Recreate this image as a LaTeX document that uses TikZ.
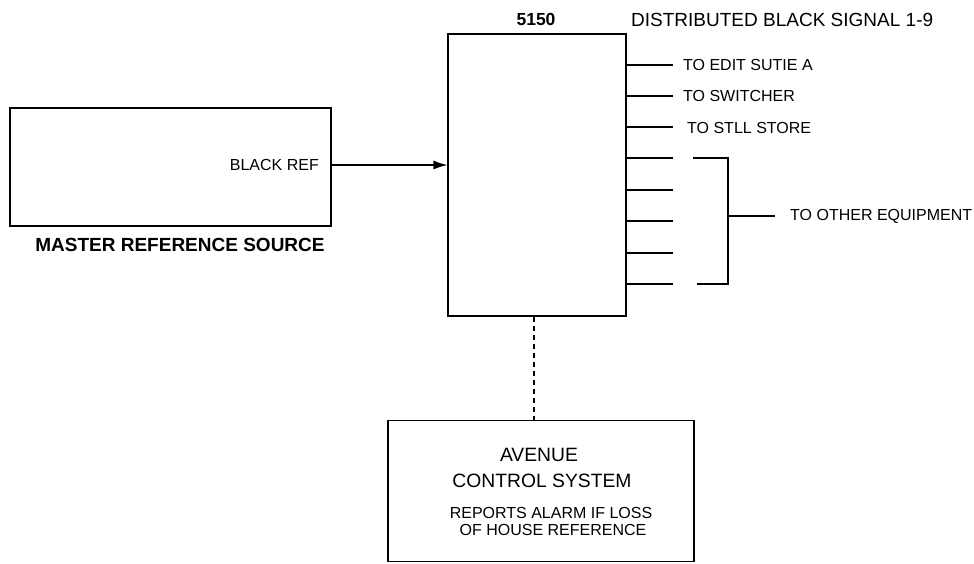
\documentclass[tikz,border=0pt]{standalone}
\usepackage{fontspec}
\setmainfont{Liberation Sans}
\usetikzlibrary{arrows.meta}
\begin{document}
\begin{tikzpicture}[x=1pt,y=-1pt,
  box/.style={draw,line width=1.2pt,inner sep=0pt},
  wire/.style={line width=1.2pt},
  lbl/.style={font=\fontsize{16}{18}\selectfont,inner sep=0pt},
  lblb/.style={font=\fontsize{19}{21}\selectfont\bfseries,inner sep=0pt},
  big/.style={font=\fontsize{19.3}{21}\selectfont,inner sep=0pt}]
\useasboundingbox (0,0) rectangle (974,563);
% master reference source
\node[box,minimum width=321pt,minimum height=118pt] (msrc) at (170.5,167) {};
\node[lbl,anchor=east] (bref) at (319,165) {BLACK REF};
\node[lblb] (mlabel) at (180,244.5) {MASTER REFERENCE SOURCE};
% 5150 box
\node[box,minimum width=178pt,minimum height=282pt] (dist) at (537,175) {};
\node[lblb,font=\fontsize{17.5}{20}\selectfont\bfseries] (title) at (536,19) {5150};
\node[lbl,font=\fontsize{19}{21}\selectfont,anchor=west] (dbs) at (631,20) {DISTRIBUTED BLACK SIGNAL 1-9};
\draw[wire,-{Latex[length=14pt,width=9pt]}] (msrc.east |- 0,165) -- (dist.west |- 0,165);
% outputs
\foreach \y/\n in {65/a,96/b,127/c,158/d,190/e,221/f,253/g,284/h}{
  \coordinate (s\n) at (626,\y);
  \coordinate (f\n) at (673,\y);
  \draw[wire] (s\n) -- (f\n);
}
\node[lbl,anchor=west] (t1) at (683,65) {TO EDIT SUTIE A};
\node[lbl,anchor=west] (t2) at (683,96) {TO SWITCHER};
\node[lbl,anchor=west] (t3) at (687,128) {TO STLL STORE};
% bracket
\coordinate (bt) at (693,158);
\coordinate (btc) at (728,158);
\coordinate (bbc) at (728,284);
\coordinate (bb) at (697,284);
\coordinate (bm) at (728,216);
\coordinate (bme) at (775,216);
\draw[wire] (bt) -- (btc) -- (bbc) -- (bb);
\draw[wire] (bm) -- (bme);
\node[lbl,anchor=west] (toe) at (790,216) {TO OTHER EQUIPMENT};
% avenue control system
\node[box,minimum width=306pt,minimum height=141pt] (acs) at (541,491) {};
\draw[wire,dash pattern=on 5pt off 4pt] (dist.south -| 534,0) -- (acs.north -| 534,0);
\node[big] (a1) at (539,454.5) {AVENUE};
\node[big] (a2) at (542,481) {CONTROL SYSTEM};
\node[lbl] (a3) at (551,513) {REPORTS ALARM IF LOSS};
\node[lbl] (a4) at (553,530) {OF HOUSE REFERENCE};
\end{tikzpicture}
\end{document}
